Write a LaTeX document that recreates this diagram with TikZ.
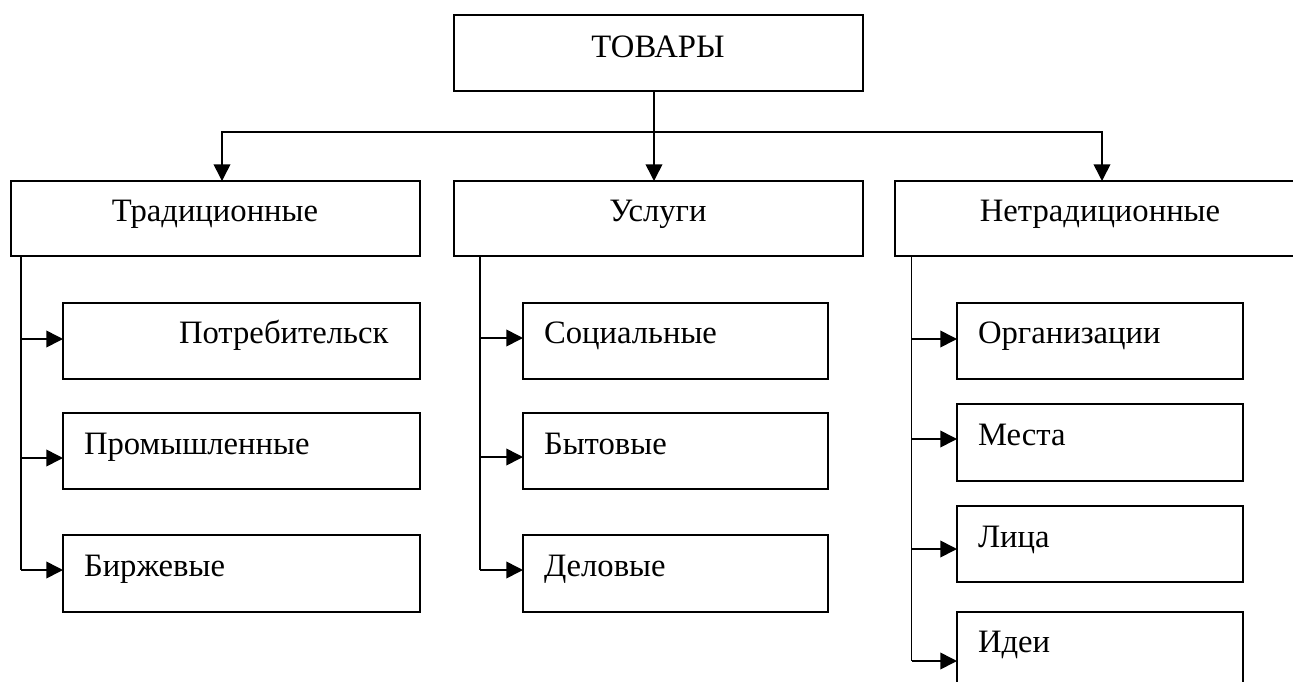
\documentclass[tikz,border=0pt]{standalone}
\usepackage{fontspec}
\setmainfont{Liberation Serif}
\usetikzlibrary{arrows.meta}
\tikzset{
  box/.style={draw=black, line width=1.6pt, rectangle, inner sep=0pt, outer sep=0pt, anchor=north west},
  txt/.style={inner sep=0pt, outer sep=0pt, font=\fontsize{24.5}{29}\selectfont},
  conn/.style={draw=black, line width=1.2pt},
  tip/.style={-{Triangle[length=12.5pt,width=12.5pt]}},
}
\newcommand\mybox[5]{\node[box, minimum width=#4*0.75pt, minimum height=#5*0.75pt] (#1) at (#2,#3) {};}
\begin{document}
\begin{tikzpicture}[x=0.75pt,y=-0.75pt]
\useasboundingbox (0,0) rectangle (1293,682);
% top
\mybox{tov}{454}{15}{409}{76}
\node[txt, anchor=base] (ttov) at (658,57) {ТОВАРЫ};
% second row
\mybox{trad}{11}{181}{409}{75}
\mybox{usl}{454}{181}{409}{75}
\mybox{netr}{894.6}{181}{411}{75}
\node[txt, anchor=base] (ttrad) at (215,221) {Традиционные};
\node[txt, anchor=base] (tusl) at (658,221) {Услуги};
\node[txt, anchor=base] (tnetr) at (1100,221) {Нетрадиционные};
% traditional column
\mybox{p1}{63}{303}{357}{76}
\mybox{p2}{63}{413}{357}{76}
\mybox{p3}{63}{535}{357}{77}
\node[txt, anchor=base west] (tp1) at (179,343) {Потребительск};
\node[txt, anchor=base west] (tp2) at (84,454) {Промышленные};
\node[txt, anchor=base west] (tp3) at (84,576) {Биржевые};
% services column
\mybox{u1}{523}{303}{305}{76}
\mybox{u2}{523}{413}{305}{76}
\mybox{u3}{523}{535}{305}{77}
\node[txt, anchor=base west] (tu1) at (544,343) {Социальные};
\node[txt, anchor=base west] (tu2) at (544,454) {Бытовые};
\node[txt, anchor=base west] (tu3) at (544,576) {Деловые};
% non-traditional column
\mybox{n1}{957}{303}{286}{76}
\mybox{n2}{957}{404}{286}{77}
\mybox{n3}{957}{506}{286}{76}
\mybox{n4}{957}{612}{286}{76}
\node[txt, anchor=base west] (tn1) at (978,343) {Организации};
\node[txt, anchor=base west] (tn2) at (978,445) {Места};
\node[txt, anchor=base west] (tn3) at (978,547) {Лица};
\node[txt, anchor=base west] (tn4) at (978,652) {Идеи};
% top connectors
\coordinate (j) at (654,132);
\coordinate (hl) at (222,132);
\coordinate (hr) at (1102,132);
\draw[conn,tip] (tov.south -| j) -- (usl.north -| j);
\draw[conn,{Triangle[length=12.5pt,width=12.5pt]}-{Triangle[length=12.5pt,width=12.5pt]}] (trad.north -| hl) |- (hr) -- (netr.north -| hr);
% traditional branches
\coordinate (ta1) at (20.7,339);
\coordinate (ta2) at (20.7,458);
\coordinate (ta3) at (20.7,570);
\draw[conn] (trad.south -| ta1) -- (ta3);
\draw[conn,tip] (ta1) -- (ta1 -| p1.west);
\draw[conn,tip] (ta2) -- (ta2 -| p2.west);
\draw[conn,tip] (ta3) -- (ta3 -| p3.west);
% services branches
\coordinate (ua1) at (480,338);
\coordinate (ua2) at (480,457);
\coordinate (ua3) at (480,570);
\draw[conn] (usl.south -| ua1) -- (ua3);
\draw[conn,tip] (ua1) -- (ua1 -| u1.west);
\draw[conn,tip] (ua2) -- (ua2 -| u2.west);
\draw[conn,tip] (ua3) -- (ua3 -| u3.west);
% non-traditional branches
\coordinate (na1) at (911.5,339);
\coordinate (na2) at (911.5,439);
\coordinate (na3) at (911.5,549);
\coordinate (na4) at (911.5,661);
\draw[conn] (netr.south -| na1) -- (na4);
\draw[conn,tip] (na1) -- (na1 -| n1.west);
\draw[conn,tip] (na2) -- (na2 -| n2.west);
\draw[conn,tip] (na3) -- (na3 -| n3.west);
\draw[conn,tip] (na4) -- (na4 -| n4.west);
\end{tikzpicture}
\end{document}
